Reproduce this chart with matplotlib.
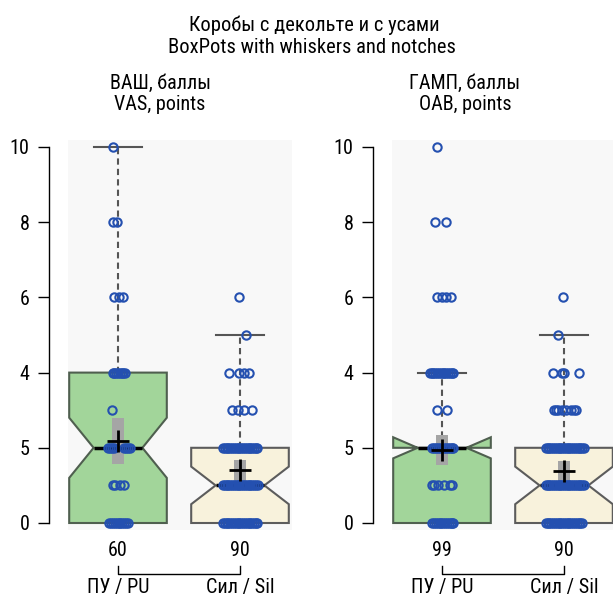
import matplotlib
matplotlib.use("Agg")
import matplotlib.pyplot as plt
import matplotlib.transforms as mtransforms

plt.rcParams['font.family'] = ['Roboto Condensed', 'Liberation Sans', 'DejaVu Sans']

# texts
title_lines = ["Коробы с декольте и с усами", "BoxPots with whiskers and notches"]
panel_titles = [("ВАШ, баллы", "VAS, points"), ("ГАМП, баллы", "OAB, points")]
group_labels = ["ПУ / PU", "Сил / Sil"]
counts = [[60, 90], [99, 90]]
yticks = [0, 2, 4, 6, 8, 10]
ytick_labels = ["0", "5", "4", "6", "8", "10"]

# box stats (q1, median, q3, whiskers, notch limits)
vas_pu = dict(q1=0, med=2, q3=4, whislo=0, whishi=10, cilo=1.2, cihi=2.8)
vas_sil = dict(q1=0, med=1, q3=2, whislo=0, whishi=5, cilo=0.5, cihi=1.5)
oab_pu = dict(q1=0, med=2, q3=2, whislo=0, whishi=4, cilo=1.72, cihi=2.28)
oab_sil = dict(q1=0, med=1, q3=2, whislo=0, whishi=5, cilo=0.5, cihi=1.5)

# means and half-height of the grey band round them
means = [[2.18, 1.40], [1.95, 1.38]]
mean_half = [[0.61, 0.28], [0.40, 0.28]]

# single scores with their horizontal jitter (score -> offsets from box centre)
vas_pu_pts = {
    10: [-0.04],
    8: [-0.045, -0.005],
    6: [-0.03, 0.01, 0.045],
    4: [-0.045, -0.03, -0.015, 0.0, 0.015, 0.03, 0.045, 0.06],
    3: [-0.05],
    2: [-0.08, -0.065, -0.05, -0.035, 0.05, 0.065, 0.08, 0.095],
    1: [-0.04, -0.025, 0.02, 0.05],
    0: [-0.07, -0.055, -0.04, -0.025, -0.01, 0.005, 0.02, 0.035, 0.05, 0.065, 0.08],
}
vas_sil_pts = {
    6: [-0.01],
    5: [0.05],
    4: [-0.09, -0.01, 0.03, 0.07],
    3: [-0.065, -0.015, 0.035, 0.1],
    2: [-0.14, -0.125, -0.11, -0.095, -0.08, -0.065, -0.05, -0.035, -0.02, -0.005,
        0.01, 0.025, 0.04, 0.055, 0.07, 0.085, 0.1, 0.115, 0.13, 0.14],
    1: [-0.14, -0.125, -0.11, -0.095, -0.08, -0.065, -0.05, -0.035, -0.02, -0.005,
        0.01, 0.025, 0.04, 0.055, 0.07, 0.085, 0.1, 0.115, 0.13, 0.145],
    0: [-0.14, -0.125, -0.11, -0.095, -0.08, -0.065, -0.05, -0.035, -0.02, -0.005,
        0.01, 0.025, 0.04, 0.055, 0.07, 0.085, 0.1, 0.115, 0.13, 0.14],
}
oab_pu_pts = {
    10: [-0.04],
    8: [-0.055, 0.035],
    6: [-0.04, 0.0, 0.035, 0.075],
    4: [-0.1, -0.085, -0.07, -0.055, -0.04, -0.025, -0.01, 0.005, 0.02, 0.035,
        0.05, 0.065, 0.08, 0.09],
    3: [-0.04, 0.04],
    2: [-0.08, -0.065, -0.05, -0.035, -0.02, 0.02, 0.035, 0.05, 0.065, 0.08, 0.09],
    1: [-0.08, -0.065, -0.03, 0.02, 0.065, 0.08],
    0: [-0.08, -0.065, -0.05, -0.035, -0.02, -0.005, 0.01, 0.025, 0.04, 0.055,
        0.07, 0.085, 0.09],
}
oab_sil_pts = {
    6: [-0.01],
    5: [-0.05],
    4: [-0.09, -0.015, 0.0, 0.12],
    3: [-0.08, -0.065, -0.05, -0.02, 0.02, 0.06, 0.08, 0.095],
    2: [-0.15, -0.135, -0.12, -0.105, -0.09, -0.075, -0.06, -0.045, -0.03, -0.015,
        0.0, 0.015, 0.03, 0.045, 0.06, 0.075, 0.09, 0.105, 0.12, 0.135, 0.15, 0.16],
    1: [-0.15, -0.135, -0.12, -0.105, -0.09, -0.075, -0.06, -0.045, -0.03, -0.015,
        0.0, 0.015, 0.03, 0.045, 0.06, 0.075, 0.09, 0.105, 0.12, 0.135, 0.15, 0.16],
    0: [-0.15, -0.135, -0.12, -0.105, -0.09, -0.075, -0.06, -0.045, -0.03, -0.015,
        0.0, 0.015, 0.03, 0.045, 0.06, 0.075, 0.09, 0.105, 0.12, 0.135, 0.15],
}

panels = [[vas_pu, vas_sil], [oab_pu, oab_sil]]
panel_pts = [[vas_pu_pts, vas_sil_pts], [oab_pu_pts, oab_sil_pts]]
box_colors = ["#a2d59a", "#f8f2dc"]
edge_colors = ["#4f5f4f", "#5c5c5c"]

fig = plt.figure(figsize=(6.13, 5.99), dpi=100)
W, H = 613.0, 599.0

fig.text(314 / W, 1 - 31 / H, title_lines[0], ha="center", va="baseline", fontsize=14.8)
fig.text(312 / W, 1 - 53 / H, title_lines[1], ha="center", va="baseline", fontsize=14.8)

panel_left = [68, 392]
title_x = [160, 465]

for p in range(2):
    ax = fig.add_axes([panel_left[p] / W, 1 - 530 / H, 224 / W, 390 / H])
    ax.set_facecolor("#f8f8f8")
    stats = panels[p]
    pos = [1, 2]
    bp = ax.bxp(stats, positions=pos, widths=0.8, shownotches=True,
                patch_artist=True, showfliers=False, manage_ticks=False,
                boxprops=dict(linewidth=1.5),
                whiskerprops=dict(color="#555555", linestyle=(0, (3, 2)), linewidth=1.5),
                capprops=dict(color="#555555", linewidth=1.5),
                medianprops=dict(color="black", linewidth=2.5, zorder=3.5))
    for i, box in enumerate(bp["boxes"]):
        box.set_facecolor(box_colors[i])
        box.set_edgecolor(edge_colors[i])
        box.set_zorder(1)
    for i, cap in enumerate(bp["caps"]):
        if i % 2 == 0:
            cap.set_visible(False)
    for i in range(2):
        ax.bar(pos[i], 2 * mean_half[p][i], bottom=means[p][i] - mean_half[p][i],
               width=0.1, color="#a5a5a5", zorder=3)
        xs, ys = [], []
        for val, offs in panel_pts[p][i].items():
            for o in offs:
                xs.append(pos[i] + o)
                ys.append(val)
        ax.plot(xs, ys, "o", mfc="none", mec="#2450b0", ms=6, mew=1.5, zorder=4)
        ax.plot(pos[i], means[p][i], "+", color="black", ms=16, mew=2, zorder=5)

    ax.set_xlim(1 - 50 / 122, 1 - 50 / 122 + 224 / 122)
    ax.set_ylim(-7 / 37.6, 10 + 7 / 37.6)
    for s in ["top", "right", "bottom"]:
        ax.spines[s].set_visible(False)
    ax.spines["left"].set_position(("outward", 19 * 0.72))
    ax.spines["left"].set_bounds(0, 10)
    ax.spines["left"].set_linewidth(1)
    ax.set_yticks(yticks)
    ax.set_yticklabels(ytick_labels, fontsize=14.5)
    ax.tick_params(axis="y", length=8, width=1, pad=6)
    ax.set_xticks([])

    trans = mtransforms.blended_transform_factory(ax.transData, ax.transAxes)
    def ay(px):
        return (530 - px) / 390.0
    for i in range(2):
        ax.text(pos[i], ay(556), str(counts[p][i]), transform=trans, ha="center",
                va="baseline", fontsize=14.5)
        ax.text(pos[i], ay(593), group_labels[i], transform=trans, ha="center",
                va="baseline", fontsize=14.5)
    ax.plot([1, 1, 2, 2], [ay(566), ay(574), ay(574), ay(566)], color="black",
            lw=1, transform=trans, clip_on=False)

    fig.text(title_x[p] / W, 1 - 89 / H, panel_titles[p][0], ha="center",
             va="baseline", fontsize=14.5)
    fig.text(title_x[p] / W, 1 - 110 / H, panel_titles[p][1], ha="center",
             va="baseline", fontsize=14.5)

fig.savefig("out.png", dpi=100)
